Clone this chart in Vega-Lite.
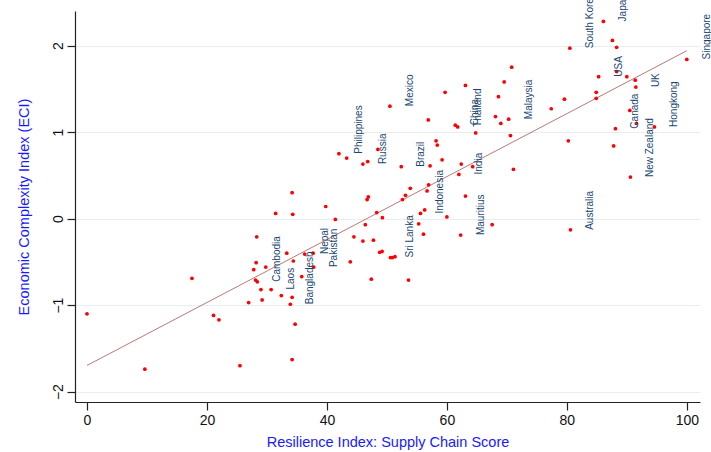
{
  "$schema": "https://vega.github.io/schema/vega-lite/v6.json",
  "autosize": {"type": "none"},
  "padding": {"left": 75, "top": 11, "right": 11, "bottom": 50},
  "width": 625,
  "height": 391,
  "background": "white",
  "config": {
    "view": {"stroke": null},
    "font": "Liberation Sans"
  },
  "data": {
    "values": [
      {"x": 0, "y": -1.10, "c": ""},
      {"x": 17.5, "y": -0.69, "c": ""},
      {"x": 21.1, "y": -1.12, "c": ""},
      {"x": 22.0, "y": -1.17, "c": ""},
      {"x": 9.65, "y": -1.74, "c": ""},
      {"x": 25.5, "y": -1.70, "c": ""},
      {"x": 26.95, "y": -0.97, "c": ""},
      {"x": 27.8, "y": -0.59, "c": ""},
      {"x": 28.1, "y": -0.71, "c": ""},
      {"x": 28.4, "y": -0.73, "c": "Cambodia"},
      {"x": 28.2, "y": -0.51, "c": ""},
      {"x": 28.3, "y": -0.21, "c": ""},
      {"x": 29.0, "y": -0.82, "c": ""},
      {"x": 29.2, "y": -0.94, "c": ""},
      {"x": 29.8, "y": -0.56, "c": ""},
      {"x": 30.7, "y": -0.82, "c": "Laos"},
      {"x": 31.45, "y": 0.06, "c": ""},
      {"x": 32.4, "y": -0.89, "c": ""},
      {"x": 33.3, "y": -0.40, "c": ""},
      {"x": 33.9, "y": -0.99, "c": "Bangladesh"},
      {"x": 34.2, "y": -0.91, "c": ""},
      {"x": 34.2, "y": 0.30, "c": ""},
      {"x": 34.3, "y": 0.05, "c": ""},
      {"x": 34.4, "y": -0.49, "c": ""},
      {"x": 34.7, "y": -1.22, "c": ""},
      {"x": 34.2, "y": -1.63, "c": ""},
      {"x": 35.8, "y": -0.67, "c": ""},
      {"x": 36.3, "y": -0.41, "c": "Nepal"},
      {"x": 37.7, "y": -0.40, "c": ""},
      {"x": 37.8, "y": -0.56, "c": "Pakistan"},
      {"x": 39.8, "y": 0.14, "c": ""},
      {"x": 41.4, "y": -0.01, "c": ""},
      {"x": 42.0, "y": 0.75, "c": "Philippines"},
      {"x": 43.3, "y": 0.70, "c": ""},
      {"x": 43.9, "y": -0.50, "c": ""},
      {"x": 44.5, "y": -0.21, "c": ""},
      {"x": 46.0, "y": -0.26, "c": ""},
      {"x": 46.0, "y": 0.63, "c": "Russia"},
      {"x": 46.8, "y": 0.66, "c": ""},
      {"x": 46.4, "y": -0.07, "c": ""},
      {"x": 46.7, "y": 0.22, "c": ""},
      {"x": 46.9, "y": 0.25, "c": ""},
      {"x": 47.4, "y": -0.70, "c": ""},
      {"x": 47.75, "y": -0.25, "c": ""},
      {"x": 48.3, "y": 0.07, "c": ""},
      {"x": 48.5, "y": 0.80, "c": ""},
      {"x": 48.8, "y": -0.39, "c": ""},
      {"x": 49.2, "y": -0.38, "c": ""},
      {"x": 49.25, "y": 0.01, "c": ""},
      {"x": 50.5, "y": 1.30, "c": "Mexico"},
      {"x": 50.6, "y": -0.45, "c": "Sri Lanka"},
      {"x": 50.9, "y": -0.45, "c": ""},
      {"x": 51.35, "y": -0.44, "c": ""},
      {"x": 52.4, "y": 0.60, "c": "Brazil"},
      {"x": 52.6, "y": 0.22, "c": ""},
      {"x": 53.1, "y": 0.27, "c": ""},
      {"x": 53.6, "y": -0.71, "c": ""},
      {"x": 53.9, "y": 0.35, "c": ""},
      {"x": 55.3, "y": -0.06, "c": ""},
      {"x": 55.6, "y": 0.06, "c": "Indonesia"},
      {"x": 56.1, "y": -0.18, "c": ""},
      {"x": 56.3, "y": 0.10, "c": ""},
      {"x": 56.7, "y": 0.32, "c": ""},
      {"x": 56.95, "y": 0.39, "c": ""},
      {"x": 56.9, "y": 1.14, "c": ""},
      {"x": 57.2, "y": 0.61, "c": ""},
      {"x": 58.2, "y": 0.90, "c": ""},
      {"x": 58.4, "y": 0.85, "c": ""},
      {"x": 59.2, "y": 0.68, "c": ""},
      {"x": 59.7, "y": 1.46, "c": ""},
      {"x": 60.0, "y": 0.02, "c": ""},
      {"x": 61.4, "y": 1.08, "c": "China"},
      {"x": 61.8, "y": 1.06, "c": "Thailand"},
      {"x": 62.0, "y": 0.51, "c": "India"},
      {"x": 62.3, "y": -0.19, "c": "Mauritius"},
      {"x": 62.4, "y": 0.63, "c": ""},
      {"x": 63.1, "y": 1.54, "c": ""},
      {"x": 63.1, "y": 0.26, "c": ""},
      {"x": 64.3, "y": 0.60, "c": ""},
      {"x": 64.8, "y": 0.99, "c": ""},
      {"x": 67.55, "y": -0.07, "c": ""},
      {"x": 68.1, "y": 1.18, "c": ""},
      {"x": 68.6, "y": 1.41, "c": ""},
      {"x": 69.0, "y": 1.10, "c": ""},
      {"x": 69.55, "y": 1.58, "c": ""},
      {"x": 70.3, "y": 1.15, "c": "Malaysia"},
      {"x": 70.6, "y": 0.96, "c": ""},
      {"x": 70.8, "y": 1.75, "c": ""},
      {"x": 71.1, "y": 0.57, "c": ""},
      {"x": 77.4, "y": 1.27, "c": ""},
      {"x": 79.6, "y": 1.38, "c": ""},
      {"x": 80.25, "y": 0.90, "c": ""},
      {"x": 80.5, "y": 1.97, "c": "South Korea"},
      {"x": 80.6, "y": -0.13, "c": "Australia"},
      {"x": 84.9, "y": 1.46, "c": ""},
      {"x": 84.9, "y": 1.39, "c": ""},
      {"x": 85.3, "y": 1.64, "c": "USA"},
      {"x": 86.1, "y": 2.28, "c": "Japan"},
      {"x": 87.6, "y": 2.06, "c": ""},
      {"x": 87.8, "y": 0.84, "c": ""},
      {"x": 88.1, "y": 1.04, "c": "Canada"},
      {"x": 88.3, "y": 1.98, "c": ""},
      {"x": 88.3, "y": 1.70, "c": ""},
      {"x": 90.0, "y": 1.64, "c": ""},
      {"x": 91.4, "y": 1.60, "c": ""},
      {"x": 91.5, "y": 1.52, "c": "UK"},
      {"x": 90.5, "y": 1.25, "c": ""},
      {"x": 90.6, "y": 0.48, "c": "New Zealand"},
      {"x": 91.6, "y": 1.10, "c": ""},
      {"x": 94.6, "y": 1.06, "c": "Hongkong"},
      {"x": 100, "y": 1.84, "c": "Singapore"}
    ]
  },
  "encoding": {
    "x": {
      "field": "x", "type": "quantitative",
      "scale": {"domain": [-2, 102.2], "nice": false, "zero": false},
      "axis": {
        "title": "Resilience Index: Supply Chain Score",
        "values": [0, 20, 40, 60, 80, 100],
        "grid": false,
        "domainColor": "#222222", "domainWidth": 1.2,
        "tickColor": "#222222", "tickSize": 8, "tickWidth": 1.2,
        "labelFontSize": 14, "labelColor": "#111111", "labelPadding": 3,
        "labelFont": "Liberation Sans",
        "titleFont": "Liberation Sans", "titleFontSize": 14.5, "titleFontWeight": "normal",
        "titleColor": "#1a1aff", "titlePadding": 8
      }
    },
    "y": {
      "field": "y", "type": "quantitative",
      "scale": {"domain": [-2.12, 2.40], "nice": false, "zero": false},
      "axis": {
        "title": "Economic Complexity Index (ECI)",
        "values": [-2, -1, 0, 1, 2],
        "grid": true, "gridColor": "#e6eef0", "gridWidth": 1,
        "domainColor": "#222222", "domainWidth": 1.2,
        "tickColor": "#222222", "tickSize": 8, "tickWidth": 1.2,
        "labelAngle": 270, "labelAlign": "center", "labelBaseline": "alphabetic",
        "labelFontSize": 14, "labelColor": "#111111", "labelPadding": 5,
        "labelFont": "Liberation Sans",
        "titleFont": "Liberation Sans", "titleFontSize": 14.5, "titleFontWeight": "normal",
        "titleColor": "#1a1aff", "titlePadding": 20
      }
    }
  },
  "layer": [
    {
      "transform": [{"regression": "y", "on": "x"}],
      "mark": {"type": "line", "color": "#b06a6a", "strokeWidth": 0.9}
    },
    {
      "mark": {"type": "point", "filled": true, "color": "#ff0000", "size": 14, "opacity": 1}
    },
    {
      "transform": [{"filter": "datum.c != ''"}],
      "mark": {"type": "text", "angle": 270, "align": "left", "baseline": "middle", "dy": 20, "fontSize": 10, "color": "#1a476f", "font": "Liberation Sans"},
      "encoding": {"text": {"field": "c"}}
    }
  ]
}
